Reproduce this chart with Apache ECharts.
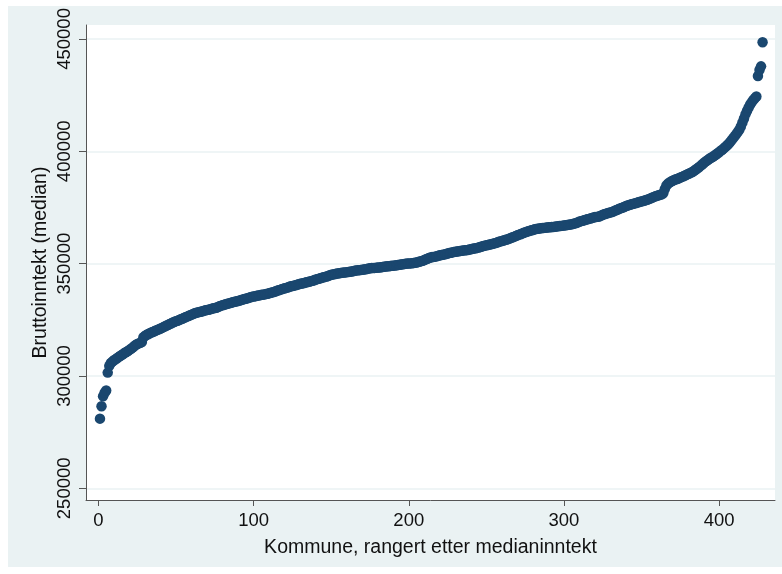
<!DOCTYPE html>
<html>
<head>
<meta charset="utf-8">
<script src="https://cdn.jsdelivr.net/npm/echarts@6/dist/echarts.min.js"></script>
<style>
html,body{margin:0;padding:0;background:#fff;}
#c{width:782px;height:574px;}
</style>
</head>
<body>
<div id="c"></div>
<script>
// Median gross income per municipality, sorted (rank = position in array, starting at 1)
const medianIncome = [
281000,286500,291000,292500,293500,301500,304500,305800,306400,307000,
307400,307900,308400,308900,309300,309800,310300,310700,311100,311600,
312100,312600,313200,313800,314200,314500,314800,315100,317200,317800,
318300,318600,319000,319300,319600,319900,320200,320500,320800,321100,
321400,321800,322100,322500,322800,323100,323500,323800,324100,324400,
324600,324900,325200,325500,325800,326100,326400,326700,327000,327300,
327600,327900,328100,328300,328500,328600,328800,329000,329200,329400,
329500,329700,329900,330100,330200,330400,330700,331000,331300,331500,
331700,331900,332100,332300,332500,332700,332900,333000,333200,333400,
333600,333800,334000,334200,334400,334600,334800,335000,335300,335400,
335500,335700,335800,335900,336100,336200,336300,336500,336600,336800,
337000,337200,337400,337600,337900,338100,338300,338600,338800,339000,
339200,339400,339700,339900,340000,340200,340400,340600,340800,341000,
341100,341300,341500,341700,341800,342000,342200,342400,342600,342900,
343100,343300,343500,343700,343900,344100,344300,344500,344800,345000,
345200,345300,345500,345600,345700,345800,345900,346000,346100,346200,
346300,346400,346500,346600,346800,346900,347000,347100,347200,347300,
347400,347500,347600,347800,347900,348000,348000,348100,348200,348300,
348300,348400,348500,348600,348700,348800,348800,348900,349000,349100,
349200,349300,349400,349500,349600,349700,349800,349900,350000,350100,
350100,350200,350300,350400,350500,350700,350900,351100,351300,351600,
351900,352200,352500,352700,352900,353000,353100,353300,353500,353700,
353800,354000,354100,354300,354500,354700,354800,355000,355200,355300,
355400,355500,355600,355700,355800,355900,356000,356100,356300,356400,
356600,356700,356800,357000,357200,357400,357600,357800,358000,358200,
358300,358500,358600,358800,359000,359200,359400,359700,359900,360100,
360300,360500,360700,360900,361200,361500,361700,362000,362300,362600,
362900,363100,363400,363700,363900,364200,364400,364600,364800,365000,
365300,365400,365500,365600,365700,365800,365900,366000,366100,366200,
366200,366300,366300,366400,366500,366600,366700,366800,366900,367000,
367100,367200,367300,367400,367500,367700,367900,368100,368400,368700,
368900,369100,369300,369500,369700,369900,370100,370300,370500,370700,
370800,370900,371100,371400,371700,372000,372200,372400,372600,372800,
373000,373300,373600,373900,374200,374500,374700,375000,375300,375600,
375900,376100,376300,376500,376700,376900,377100,377300,377500,377700,
377900,378100,378300,378500,378800,379100,379400,379700,380000,380200,
380400,380600,380900,381300,383200,384800,385600,386100,386500,386900,
387200,387500,387700,388000,388300,388600,388900,389200,389600,389900,
390200,390500,390900,391400,391900,392400,392900,393500,394100,394700,
395300,395800,396300,396800,397200,397600,398100,398600,399100,399600,
400200,400700,401300,401900,402600,403200,404000,404900,405800,406700,
407600,408600,409600,411000,412800,414600,416500,418000,419500,420800,
421800,422800,423600,424400,433500,436200,437800,448500
];
const xTicks = [0, 100, 200, 300, 400];
const yTicks = [250000, 300000, 350000, 400000, 450000];
const xTitle = 'Kommune, rangert etter medianinntekt';
const yTitle = 'Bruttoinntekt (median)';

const points = medianIncome.map((v, i) => [i + 1, v]);
const FONT = '"Liberation Sans", Arial, Helvetica, sans-serif';
const chart = echarts.init(document.getElementById('c'), null, {renderer: 'canvas'});
chart.setOption({
  animation: false,
  backgroundColor: '#ffffff',
  graphic: [{
    type: 'rect', z: -10, silent: true,
    shape: {x: 8, y: 6, width: 774, height: 561},
    style: {fill: '#EAF2F3'}
  }],
  grid: {
    left: 86, right: 7, top: 25, bottom: 74,
    show: true, backgroundColor: '#ffffff', borderWidth: 0
  },
  xAxis: {
    type: 'value', min: -8, max: 436,
    name: xTitle, nameLocation: 'middle', nameGap: 38, nameMoveOverlap: false,
    nameTextStyle: {fontFamily: FONT, fontSize: 19.5, color: '#111'},
    axisLine: {show: true, onZero: false, lineStyle: {color: '#555', width: 1}},
    axisTick: {show: true, length: 6, customValues: xTicks, lineStyle: {color: '#555'}},
    axisLabel: {customValues: xTicks, margin: 11, fontFamily: FONT, fontSize: 18.5, color: '#111',
      formatter: v => String(v)},
    splitLine: {show: false}
  },
  yAxis: {
    type: 'value', min: 244800, max: 456200,
    name: yTitle, nameLocation: 'middle', nameGap: 35, nameRotate: 90, nameMoveOverlap: false,
    nameTextStyle: {fontFamily: FONT, fontSize: 19.5, color: '#111'},
    axisLine: {show: true, onZero: false, lineStyle: {color: '#555', width: 1}},
    axisTick: {show: true, length: 7, customValues: yTicks, lineStyle: {color: '#555'}},
    axisLabel: {customValues: yTicks, rotate: 90, align: 'center', verticalAlign: 'bottom',
      margin: 12, fontFamily: FONT, fontSize: 18.5, color: '#111',
      formatter: v => String(v)},
    splitLine: {show: true, lineStyle: {color: '#EAF2F3', width: 1.5}}
  },
  series: [{
    type: 'scatter',
    data: points,
    symbol: 'circle',
    symbolSize: 10.5,
    itemStyle: {color: '#1A476F', opacity: 1},
    silent: true
  }]
});
</script>
</body>
</html>
